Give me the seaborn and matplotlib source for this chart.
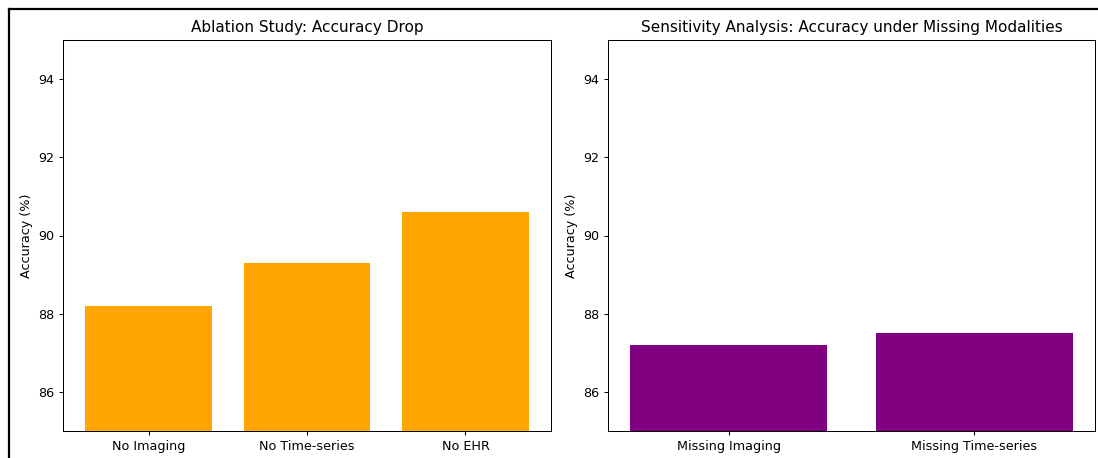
import matplotlib
matplotlib.use("Agg")
import matplotlib.pyplot as plt
import pandas as pd
import seaborn as sns
from matplotlib.lines import Line2D

# ablation results
ablation_labels = ["No Imaging", "No Time-series", "No EHR"]
ablation_acc = [88.2, 89.3, 90.6]

# sensitivity results
missing_labels = ["Missing Imaging", "Missing Time-series"]
missing_acc = [87.2, 87.5]

# the reference looks like a downscaled render, so shrink text a bit
s = 0.915
plt.rcParams.update({
    "font.size": 10 * s,
    "axes.titlesize": 12 * s,
    "axes.titlepad": 6 * s,
    "axes.linewidth": 0.8 * s,
    "xtick.major.size": 3.5 * s,
    "ytick.major.size": 3.5 * s,
    "xtick.major.width": 0.8 * s,
    "ytick.major.width": 0.8 * s,
    "xtick.major.pad": 3.5 * s,
    "ytick.major.pad": 3.5 * s,
    "axes.labelpad": 4 * s,
})

W, H = 1098, 458
fig = plt.figure(figsize=(W / 100, H / 100), dpi=100)


def px_axes(x0, y0, x1, y1):
    return fig.add_axes([x0 / W, 1 - y1 / H, (x1 - x0) / W, (y1 - y0) / H])


def bar_panel(ax, labels, values, color, title):
    df = pd.DataFrame({"label": labels, "acc": values})
    sns.barplot(data=df, x="label", y="acc", color=color, saturation=1,
                width=0.8, errorbar=None, ax=ax)
    n = len(labels)
    pad = (n - 1 + 0.8) * 0.05
    ax.set_xlim(-0.4 - pad, n - 1 + 0.4 + pad)
    ax.set_ylim(85, 95)
    ax.set_title(title)
    ax.set_xlabel("")
    ax.set_ylabel("Accuracy (%)")


ax1 = px_axes(63, 40, 551, 431)
bar_panel(ax1, ablation_labels, ablation_acc, "orange", "Ablation Study: Accuracy Drop")

ax2 = px_axes(608, 40, 1095, 431)
bar_panel(ax2, missing_labels, missing_acc, "purple",
          "Sensitivity Analysis: Accuracy under Missing Modalities")

# frame edge visible in the reference crop
fig.add_artist(Line2D([9 / W, 1], [1 - 9 / H, 1 - 9 / H], color="black", lw=1.6,
                      transform=fig.transFigure))
fig.add_artist(Line2D([9 / W, 9 / W], [0, 1 - 9 / H], color="black", lw=1.6,
                      transform=fig.transFigure))

fig.savefig("out.png", dpi=100)
